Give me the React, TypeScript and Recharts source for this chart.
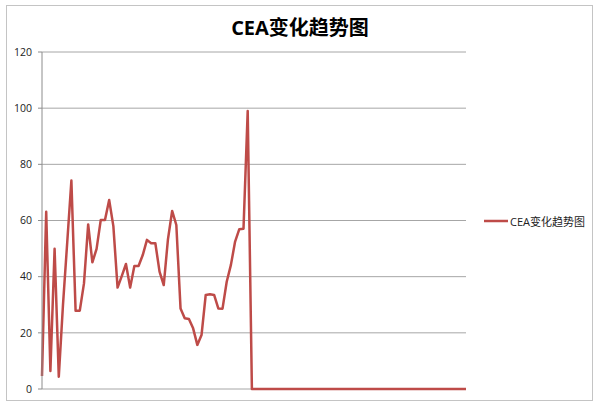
import React from "react"
import { CartesianGrid, Legend, Line, LineChart, XAxis, YAxis } from "recharts"

const title = "CEA变化趋势图"
const seriesName = "CEA变化趋势图"

// CEA readings (last part of the series sits at zero)
const ceaValues = [
  4.6, 63.1, 6.4, 49.9, 4.4, 30, 52, 74.2, 27.9, 27.9,
  37.6, 58.6, 45.1, 49.9, 60.2, 60.2, 67.3, 58, 36.1, 40.2,
  44.5, 36.1, 43.8, 43.8, 47.7, 53.1, 51.9, 51.9, 41.8, 37,
  53.3, 63.4, 58.4, 28.7, 25.2, 24.9, 21.6, 15.7, 19.2, 33.5,
  33.7, 33.5, 28.7, 28.6, 38.2, 44.2, 52.5, 56.9, 57.1, 99,
  0, 0, 0, 0, 0, 0, 0, 0, 0, 0,
  0, 0, 0, 0, 0, 0, 0, 0, 0, 0,
  0, 0, 0, 0, 0, 0, 0, 0, 0, 0,
  0, 0, 0, 0, 0, 0, 0, 0, 0, 0,
  0, 0, 0, 0, 0, 0, 0, 0, 0, 0,
  0, 0,
]

const yTicks = [0, 20, 40, 60, 80, 100, 120]

const data = ceaValues.map((v, i) => ({ idx: i + 1, cea: v }))

const LINE_COLOR = "#BE4B48"
const FONT = '"Open Sans", "Noto Sans CJK SC", sans-serif'

function LegendBox() {
  return (
    <div style={{ display: "flex", alignItems: "center", fontFamily: FONT, fontSize: 11, color: "#222" }}>
      <svg width={24} height={6} style={{ marginRight: 2 }}>
        <line x1={0} y1={3} x2={24} y2={3} stroke={LINE_COLOR} strokeWidth={2.5} />
      </svg>
      <span>{seriesName}</span>
    </div>
  )
}

export default function App() {
  return (
    <div style={{ position: "absolute", left: 0, top: 0, width: 600, height: 408, background: "#fff" }}>
      <div
        style={{
          position: "absolute",
          left: 6,
          top: 5,
          width: 587,
          height: 396,
          border: "1px solid #c4c4c4",
          boxSizing: "border-box",
        }}
      />
      <div
        style={{
          position: "absolute",
          left: 0,
          top: 12,
          width: 600,
          textAlign: "center",
          fontFamily: FONT,
          fontWeight: 700,
          fontSize: 20,
          color: "#000",
        }}
      >
        {title}
      </div>
      <div style={{ position: "absolute", left: 0, top: 0 }}>
        <LineChart width={600} height={408} data={data} margin={{ top: 52, right: 134, bottom: 19, left: 0 }}>
          <CartesianGrid vertical={false} stroke="#a6a6a6" strokeWidth={1} />
          <XAxis dataKey="idx" hide />
          <YAxis
            domain={[0, 120]}
            ticks={yTicks}
            width={42}
            tickSize={4}
            tickMargin={6}
            axisLine={{ stroke: "#8c8c8c" }}
            tickLine={{ stroke: "#8c8c8c" }}
            tick={{ fill: "#222", fontSize: 10.5, fontFamily: FONT }}
          />
          <Legend
            layout="vertical"
            align="center"
            verticalAlign="middle"
            wrapperStyle={{ left: 484, top: 213, width: 110 }}
            content={() => <LegendBox />}
          />
          <Line
            type="linear"
            dataKey="cea"
            name={seriesName}
            stroke={LINE_COLOR}
            strokeWidth={2.5}
            strokeLinejoin="round"
            dot={false}
            activeDot={false}
            isAnimationActive={false}
          />
        </LineChart>
      </div>
    </div>
  )
}
